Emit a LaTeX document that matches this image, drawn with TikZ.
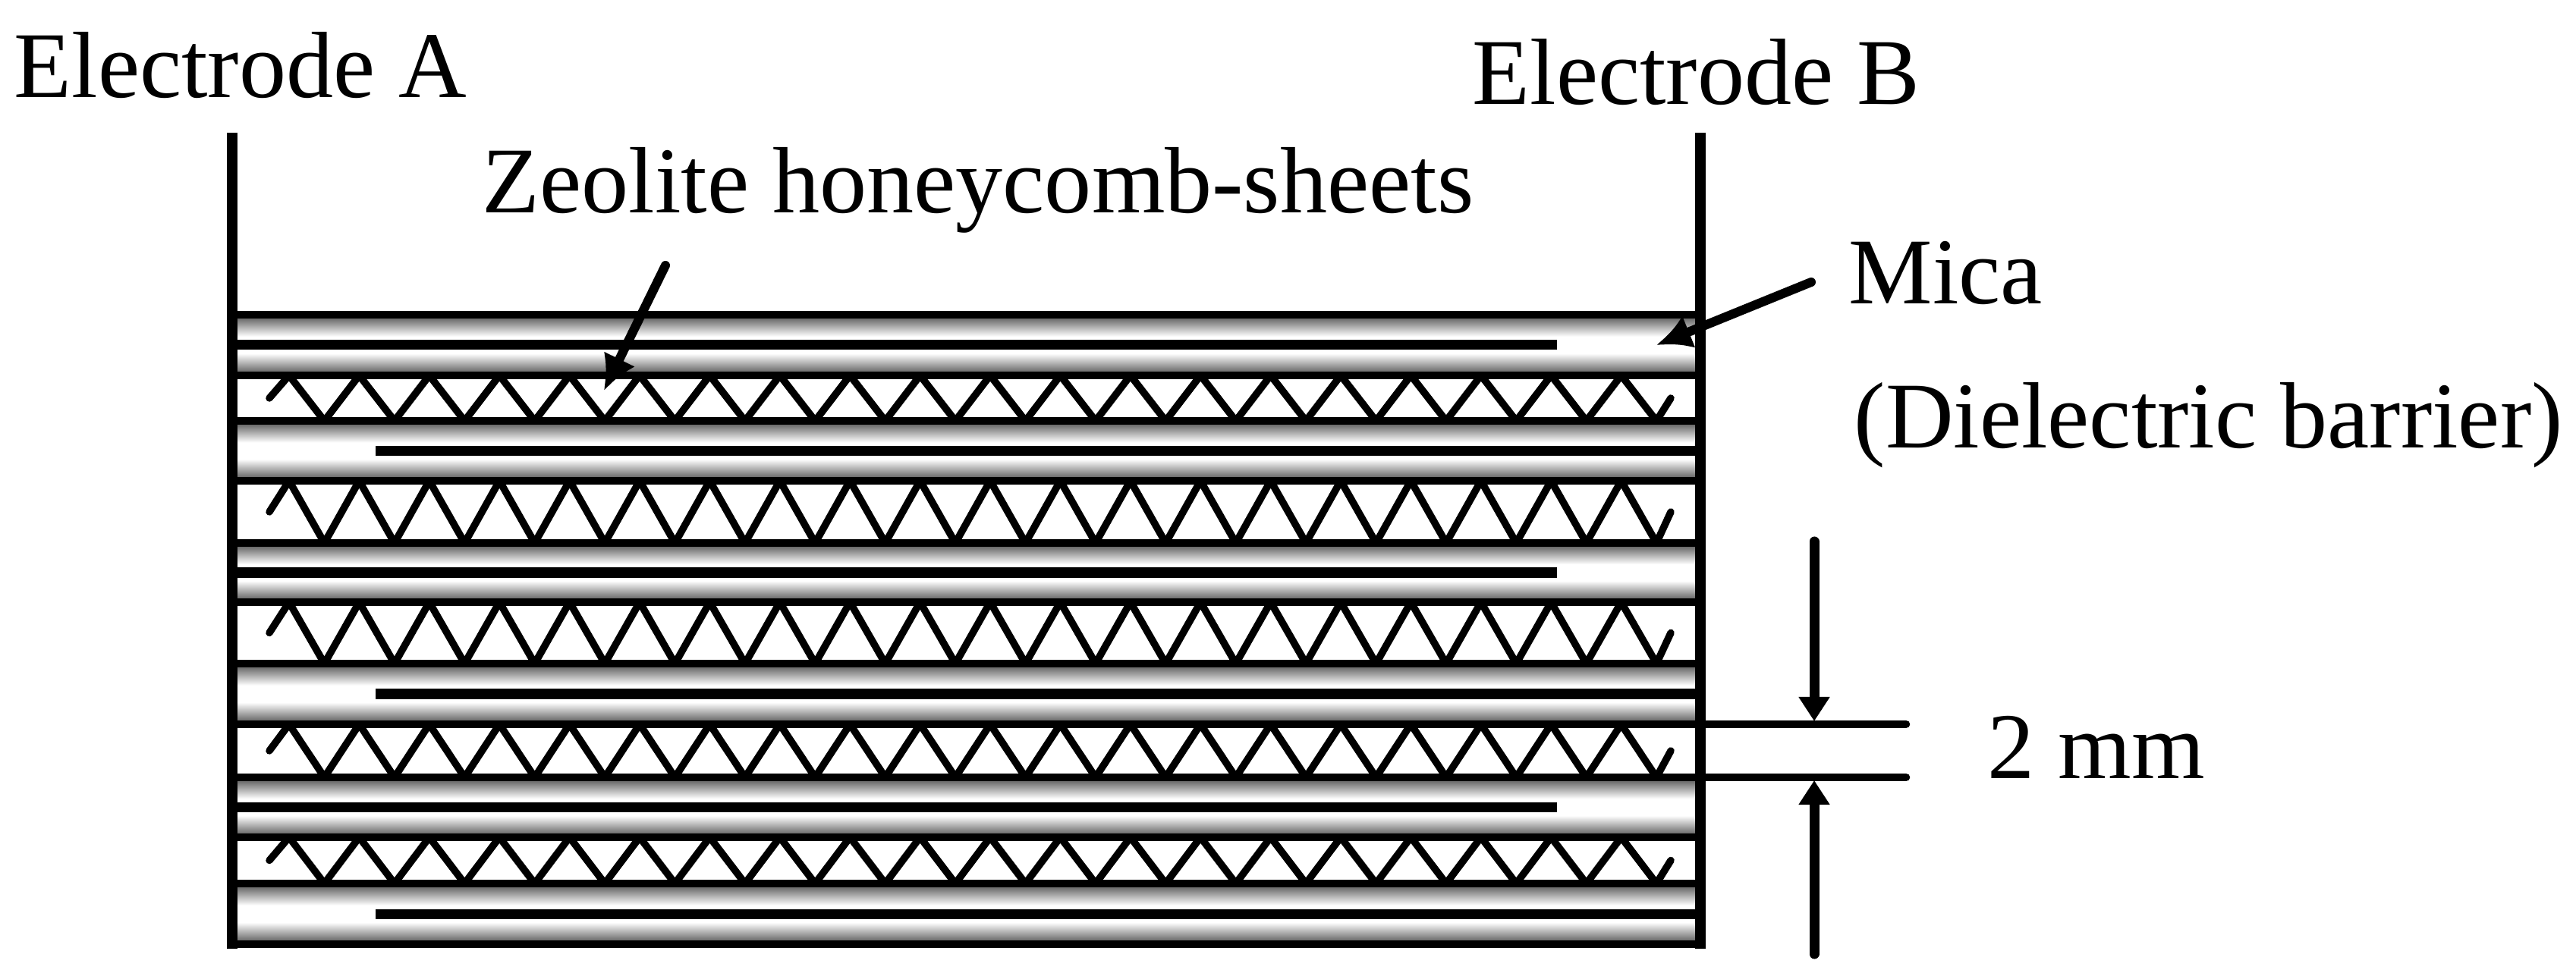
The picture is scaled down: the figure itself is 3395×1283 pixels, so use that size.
\documentclass[tikz,border=0pt]{standalone}
\usepackage{fontspec}
\setmainfont{Liberation Serif}
\usetikzlibrary{arrows.meta}
\definecolor{micagray}{gray}{0.3}
\pgfdeclareverticalshading{micashade}{100bp}{color(0bp)=(micagray); color(25bp)=(micagray); color(43bp)=(white); color(57bp)=(white); color(75bp)=(micagray); color(100bp)=(micagray)}

\begin{document}
\begin{tikzpicture}
		[x=0.01cm,y=-0.01cm,every node/.style={anchor=base west,inner sep=0pt,font=\fontsize{35.3}{42}\selectfont},
		edge/.style={-{Latex[length=4.6mm,width=4.6mm]},line width=1.2mm,line cap=round},
		dim/.style={-{Triangle[length=3.2mm,width=3.9mm]},line width=1.3mm,line cap=round},
		plate/.style={line width=1.05mm},electrode/.style={line width=1.3mm},wall/.style={line width=1.35mm},
		wave/.style={line width=0.95mm,line join=round,line cap=round}]
		\useasboundingbox (0,0) rectangle (3395,1283);
		
		% mica barriers with the inner electrode sheets
		\foreach \ya/\yb/\xa/\xb in {415/495/306/2052,555/634/495/2241,716/794/306/2052,875/955/495/2241,1025/1104/306/2052,1165/1245/495/2241}{
			\shade[shading=micashade] (306,\ya) rectangle (2241,\yb);
			\draw[plate] (306,\ya) -- (2241,\ya);
			\draw[plate] (306,\yb) -- (2241,\yb);
			\draw[electrode] (\xa,{(\ya+\yb)/2}) -- (\xb,{(\ya+\yb)/2});
		}
		
		% honeycomb sheets
		\foreach \ya/\yb in {495/555,634/716,794/875,955/1025,1104/1165}{
			\draw[wave] (355,{(\ya+\yb)/2}) foreach \i in {0,...,19}{ -- ({381+92.4*\i},\ya) -- ({427.5+92.4*\i},\yb)} -- (2202,{(\ya+\yb)/2});
		}
		
		\coordinate (a1) at (306,175);
		\coordinate (a2) at (306,1251);
		\coordinate (b1) at (2241,175);
		\coordinate (b2) at (2241,1251);
		\foreach \from/\to in {a1/a2,b1/b2}
		\draw[wall] (\from) -- (\to);
		
		\coordinate (g1) at (2241,955);
		\coordinate (g2) at (2512,955);
		\coordinate (g3) at (2241,1025);
		\coordinate (g4) at (2512,1025);
		\foreach \from/\to in {g1/g2,g3/g4}
		\draw[plate,line cap=round] (\from) -- (\to);
		
		\node (elA) at (18,129) {Electrode A};
		\node (elB) at (1940,138) {Electrode B};
		\node (zeo) at (635,281) {Zeolite honeycomb-sheets};
		\node (mica) at (2436,401) {Mica};
		\node (die) at (2443,591) {(Dielectric barrier)};
		\node (gap) at (2619,1026) {2 mm};
		
		\coordinate (z1) at (877,350);
		\coordinate (z2) at (796,515);
		\coordinate (m1) at (2387,372);
		\coordinate (m2) at (2183,455);
		\foreach \from/\to in {z1/z2,m1/m2}
		\draw[edge] (\from) -- (\to);
		
		\coordinate (d1) at (2391,714);
		\coordinate (d2) at (2391,951);
		\coordinate (d3) at (2391,1258);
		\coordinate (d4) at (2391,1029);
		\foreach \from/\to in {d1/d2,d3/d4}
		\draw[dim] (\from) -- (\to);
		\end{tikzpicture}
\end{document}
